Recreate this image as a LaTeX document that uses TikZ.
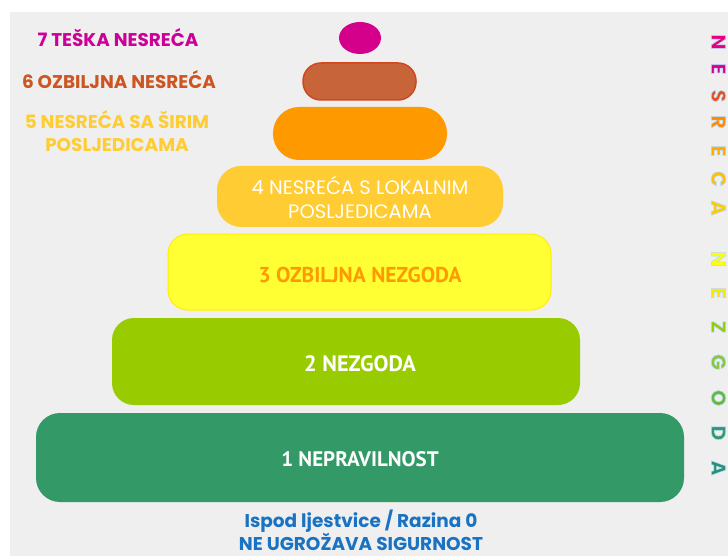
\documentclass[tikz,border=0pt]{standalone}
\usepackage{fontspec}
\setmainfont{PT Sans}
\newfontfamily\popfont{Poppins}
\newfontfamily\boxfont{PT Sans}
\definecolor{bgc}{HTML}{EFEFEF}
\definecolor{c7}{HTML}{D4008C}
\definecolor{c6}{HTML}{C8643A}
\definecolor{c6b}{HTML}{D2461E}
\definecolor{c5}{HTML}{FF9900}
\definecolor{c4}{HTML}{FFCC33}
\definecolor{c3}{HTML}{FFFF33}
\definecolor{c3b}{HTML}{FFEE00}
\definecolor{c2}{HTML}{99CC00}
\definecolor{c1}{HTML}{339966}
\definecolor{lbl7}{HTML}{CC0099}
\definecolor{lbl6}{HTML}{CC5522}
\definecolor{lbl5}{HTML}{FFCC33}
\definecolor{bluet}{HTML}{1A72C2}
\definecolor{v1}{HTML}{E6007E}
\definecolor{v2}{HTML}{D4008C}
\definecolor{v3}{HTML}{E84E1B}
\definecolor{v4}{HTML}{FF8A00}
\definecolor{v5}{HTML}{FFAA00}
\definecolor{v6}{HTML}{FFC000}
\definecolor{v7}{HTML}{FFCC00}
\definecolor{v8}{HTML}{FFFF00}
\definecolor{v9}{HTML}{FFE800}
\definecolor{v10}{HTML}{99CC00}
\definecolor{v11}{HTML}{8CC63F}
\definecolor{v12}{HTML}{66B83A}
\definecolor{v13}{HTML}{339966}
\definecolor{v14}{HTML}{2A9070}
\tikzset{
  boxtext/.style={font=\boxfont\bfseries\fontsize{21}{26}\selectfont, text=white, align=center},
  boxtextwide/.style={font=\popfont\fontsize{19.5}{24}\selectfont, text=white, align=center},
  sidelabel/.style={font=\popfont\bfseries\fontsize{18.4}{23}\selectfont, align=center},
  bottomtext/.style={font=\popfont\bfseries\fontsize{18.5}{20}\selectfont, text=bluet, align=center, inner sep=0pt},
  vletter/.style={font=\popfont\bfseries\fontsize{20.5}{20}\selectfont, inner sep=0pt, rotate=-90},
}
\newcommand{\haloed}[1]{\special{pdf:literal 2 Tr 0.6 w 0.69 0.86 1 RG}#1\special{pdf:literal 0 Tr}}
\newcommand{\vlet}[4]{\node[vletter, text=#4] (#1) at (718.5,#2) {\haloed{#3}};}
\begin{document}
\begin{tikzpicture}[x=1pt,y=-1pt]
\useasboundingbox (0,0) rectangle (728,556);
\fill[white] (0,0) rectangle (728,556);
\fill[bgc] (10,12) rectangle (728,556);
% pyramid levels
\fill[c7] (360,38) ellipse [x radius=21, y radius=16];
\node[circle, inner sep=0pt, minimum size=32pt] (l7) at (360,38) {};
\filldraw[fill=c6, draw=c6b, line width=1.5pt, rounded corners=18] (303,63) rectangle (416,100);
\node (l6) at (360,81) {};
\fill[c5, rounded corners=26] (273,107) rectangle (447,160);
\node (l5) at (360,133) {};
\fill[c4, rounded corners=24] (217,166) rectangle (503,227);
\node[boxtextwide] (l4) at (360,197) {4 NESREĆA S LOKALNIM\\POSLJEDICAMA};
\filldraw[fill=c3, draw=c3b, line width=1pt, rounded corners=20] (168,234) rectangle (551,310);
\node[boxtext, font=\boxfont\bfseries\fontsize{21.5}{26}\selectfont, text=c5] (l3) at (360,275) {3 OZBILJNA NEZGODA};
\fill[c2, rounded corners=22] (112,318) rectangle (580,405);
\node[boxtext, font=\boxfont\bfseries\fontsize{22.3}{26}\selectfont] (l2) at (360,364) {2 NEZGODA};
\fill[c1, rounded corners=24] (36,413) rectangle (684,502);
\node[boxtext] (l1) at (360,459) {1 NEPRAVILNOST};
% side labels
\node[sidelabel, text=lbl7] (s7) at (118,38) {7 TEŠKA NESREĆA};
\node[sidelabel, text=lbl6] (s6) at (119,80) {6 OZBILJNA NESREĆA};
\node[sidelabel, text=lbl5] (s5) at (117,131) {5 NESREĆA SA ŠIRIM\\POSLJEDICAMA};
% bottom text
\node[bottomtext] (b0) at (361,530) {Ispod ljestvice / Razina 0\\NE UGROŽAVA SIGURNOST};
% vertical letters (rotated text)
\vlet{n1}{42}{N}{v1}
\vlet{n2}{69}{E}{v2}
\vlet{n3}{96}{S}{v3}
\vlet{n4}{122}{R}{v4}
\vlet{n5}{151}{E}{v5}
\vlet{n6}{179}{C}{v6}
\vlet{n7}{208}{A}{v7}
\vlet{n8}{259}{N}{v8}
\vlet{n9}{293}{E}{v9}
\vlet{n10}{327}{Z}{v10}
\vlet{n11}{362}{G}{v11}
\vlet{n12}{398}{O}{v12}
\vlet{n13}{433}{D}{v13}
\vlet{n14}{468}{A}{v14}
\end{tikzpicture}
\end{document}
